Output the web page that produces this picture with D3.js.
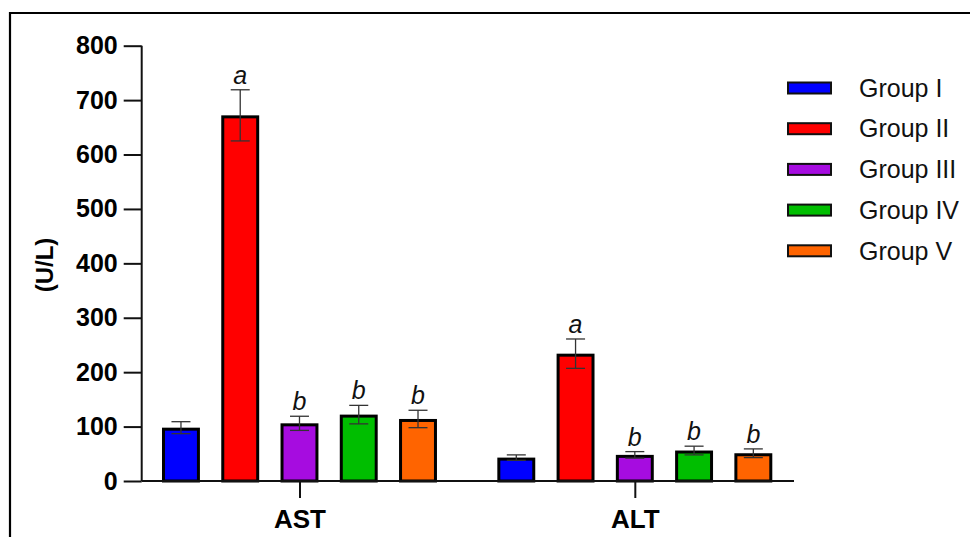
<!DOCTYPE html>
<html>
<head>
<meta charset="utf-8">
<script src="https://cdn.jsdelivr.net/npm/d3@7"></script>
<style>
  html, body { margin: 0; padding: 0; background: #fff; }
  svg { display: block; }
  text { font-family: "Liberation Sans", Arial, sans-serif; }
</style>
</head>
<body>
<svg id="chart" width="970" height="537"></svg>
<script>
// Serum enzyme activity (U/L) per treatment group, mean ± SD
const categories = ["AST", "ALT"];
const groups = ["Group I", "Group II", "Group III", "Group IV", "Group V"];
const colors = ["#0000ff", "#ff0000", "#a60ce0", "#00be00", "#ff6400"];
const astMean = [98, 672, 106, 122, 114];
const astSD = [11, 47, 13, 17, 16];
const altMean = [43, 234, 48, 56, 51];
const altSD = [5, 27, 6, 8, 8];
const astLetters = ["", "a", "b", "b", "b"];
const altLetters = ["", "a", "b", "b", "b"];
const yTicks = [0, 100, 200, 300, 400, 500, 600, 700, 800];

const means = { AST: astMean, ALT: altMean };
const sds = { AST: astSD, ALT: altSD };
const letters = { AST: astLetters, ALT: altLetters };

const rows = [];
categories.forEach(c => groups.forEach((g, i) => rows.push({
  cat: c, group: g, i, mean: means[c][i], sd: sds[c][i], letter: letters[c][i]
})));

const svg = d3.select("#chart");

// outer frame (top and left edges run off the page)
svg.append("line").attr("x1", 10).attr("x2", 975).attr("y1", 13).attr("y2", 13)
  .attr("stroke", "#000").attr("stroke-width", 2.2);
svg.append("line").attr("x1", 10).attr("x2", 10).attr("y1", 12).attr("y2", 540)
  .attr("stroke", "#000").attr("stroke-width", 2.2);

const axisX = 141.7, axisRight = 794;
const y = d3.scaleLinear().domain([0, 800]).range([481, 45.7]);
const x0 = d3.scaleBand().domain(categories).range([162, 772.3]).paddingInner(0.18).paddingOuter(0);
const x1 = d3.scaleBand().domain(groups).range([0, x0.bandwidth()]).paddingInner(0.36).paddingOuter(0);
const color = d3.scaleOrdinal().domain(groups).range(colors);

// bars
const bw = x1.bandwidth();
const sw = 3;
svg.append("g").selectAll("rect").data(rows).join("rect")
  .attr("x", d => x0(d.cat) + x1(d.group) + sw / 2)
  .attr("y", d => y(d.mean) + sw / 2)
  .attr("width", bw - sw)
  .attr("height", d => y(0) - y(d.mean) - sw / 2)
  .attr("fill", d => color(d.group))
  .attr("stroke", "#000")
  .attr("stroke-width", sw);

// error bars
const eb = svg.append("g").attr("stroke", "#333").attr("stroke-width", 1.3).attr("fill", "none");
const capW = 19;
rows.forEach(d => {
  const cx = x0(d.cat) + x1(d.group) + bw / 2;
  const yt = y(d.mean + d.sd), yb = y(d.mean - d.sd);
  eb.append("line").attr("x1", cx).attr("x2", cx).attr("y1", yt).attr("y2", yb);
  eb.append("line").attr("x1", cx - capW / 2).attr("x2", cx + capW / 2).attr("y1", yt).attr("y2", yt);
  eb.append("line").attr("x1", cx - capW / 2).attr("x2", cx + capW / 2).attr("y1", yb).attr("y2", yb);
});

// significance letters
svg.append("g").selectAll("text").data(rows.filter(d => d.letter)).join("text")
  .attr("x", d => x0(d.cat) + x1(d.group) + bw / 2)
  .attr("y", d => y(d.mean + d.sd) - 6)
  .attr("text-anchor", "middle")
  .attr("font-style", "italic")
  .attr("font-size", 25)
  .attr("fill", "#111")
  .text(d => d.letter);

// y axis
const yAxis = d3.axisLeft(y).tickValues(yTicks).tickSize(18).tickPadding(6);
const gy = svg.append("g").attr("transform", `translate(${axisX},0)`).call(yAxis);
gy.select(".domain").attr("d", `M0,${y(800)}V${y(0)}`).attr("stroke", "#111").attr("stroke-width", 2);
gy.selectAll(".tick line").attr("stroke", "#111").attr("stroke-width", 2);
gy.selectAll(".tick text").attr("font-size", 25).attr("font-weight", "bold")
  .attr("fill", "#000").attr("font-family", "Liberation Sans, Arial, sans-serif");

// x axis
const xc = d3.scaleOrdinal().domain(categories).range(categories.map(c => x0(c) + x1("Group III") + bw / 2));
const xAxis = d3.axisBottom(d3.scalePoint().domain(categories).range([xc("AST"), xc("ALT")]))
  .tickSize(17).tickPadding(12);
const gx = svg.append("g").attr("transform", `translate(0,${y(0)})`).call(xAxis);
gx.select(".domain").attr("d", `M${axisX},0H${axisRight}`).attr("stroke", "#111").attr("stroke-width", 2);
gx.selectAll(".tick line").attr("stroke", "#111").attr("stroke-width", 2);
gx.selectAll(".tick text").attr("font-size", 26).attr("font-weight", "bold")
  .attr("fill", "#000").attr("font-family", "Liberation Sans, Arial, sans-serif");

// y axis title
svg.append("text")
  .attr("transform", `translate(53,265) rotate(-90)`)
  .attr("text-anchor", "middle")
  .attr("font-size", 24)
  .attr("font-weight", "bold")
  .text("(U/L)");

// legend
const leg = svg.append("g").selectAll("g").data(groups).join("g")
  .attr("transform", (d, i) => `translate(787,${88 + i * 40.7})`);
leg.append("rect").attr("x", 1).attr("y", -5.5).attr("width", 43).attr("height", 11)
  .attr("fill", d => color(d)).attr("stroke", "#111").attr("stroke-width", 2);
leg.append("text").attr("x", 72).attr("y", 0).attr("dy", "0.35em")
  .attr("font-size", 25).attr("fill", "#111").text(d => d);
</script>
</body>
</html>
